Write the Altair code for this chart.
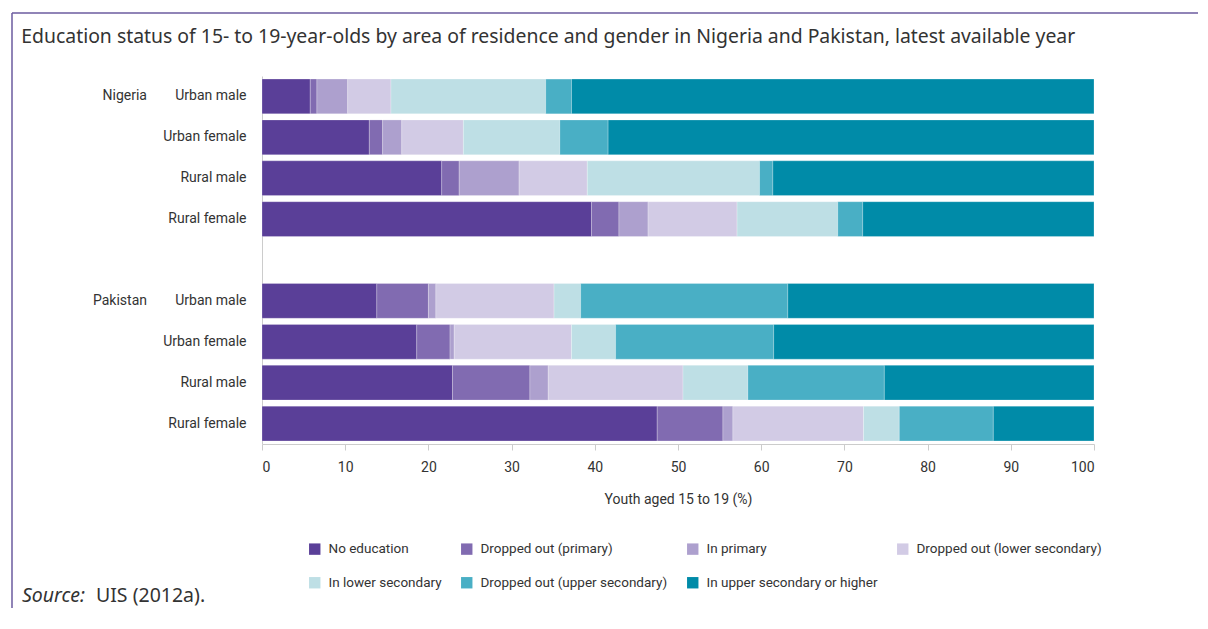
import altair as alt
import pandas as pd

# ---- data ----
countries = ["Nigeria", "Nigeria", "Nigeria", "Nigeria",
             "Pakistan", "Pakistan", "Pakistan", "Pakistan"]
groups = ["Urban male", "Urban female", "Rural male", "Rural female",
          "Urban male", "Urban female", "Rural male", "Rural female"]

categories = ["No education", "Dropped out (primary)", "In primary",
              "Dropped out (lower secondary)", "In lower secondary",
              "Dropped out (upper secondary)", "In upper secondary or higher"]
colors = ["#5a3f98", "#816bb1", "#ada0ce", "#d2cbe5", "#bedfe5", "#49afc5", "#008ba8"]

no_education        = [5.8, 12.9, 21.6, 39.6, 13.8, 18.6, 22.9, 47.5]
dropped_primary     = [0.8, 1.6, 2.1, 3.3, 6.2, 4.0, 9.3, 7.9]
in_primary          = [3.7, 2.3, 7.2, 3.5, 0.9, 0.5, 2.2, 1.2]
dropped_lower_sec   = [5.2, 7.4, 8.2, 10.7, 14.2, 14.1, 16.2, 15.7]
in_lower_sec        = [18.6, 11.6, 20.7, 12.1, 3.2, 5.3, 7.8, 4.3]
dropped_upper_sec   = [3.1, 5.8, 1.6, 3.0, 24.9, 19.0, 16.4, 11.3]
in_upper_sec_higher = [62.8, 58.4, 38.6, 27.8, 36.8, 38.5, 25.2, 12.1]

series = [no_education, dropped_primary, in_primary, dropped_lower_sec,
          in_lower_sec, dropped_upper_sec, in_upper_sec_higher]

ticks = [0, 10, 20, 30, 40, 50, 60, 70, 80, 90, 100]

# ---- build tables ----
keys = [f"{c}|{g}" for c, g in zip(countries, groups)]
row_domain = keys[:4] + ["gap"] + keys[4:]

records = []
for k_i, (cat, vals) in enumerate(zip(categories, series)):
    for key, v in zip(keys, vals):
        records.append({"row": key, "status": cat, "value": v, "k": k_i})
df = pd.DataFrame(records)

country_df = pd.DataFrame({
    "row": [keys[0], keys[4]],
    "country": [countries[0], countries[4]],
})

NARROW = "Roboto, sans-serif"
WIDE = "Noto Sans, DejaVu Sans, sans-serif"
TXT = "#333333"
FRAME = "#6b5b9f"

W, H = 832, 368
PAD = {"left": 254, "top": 68, "right": 104, "bottom": 164}

yscale = alt.Scale(domain=row_domain, paddingInner=0.15, paddingOuter=0.075)

bars = alt.Chart(df).mark_bar(stroke="#ffffff", strokeWidth=0.4, strokeOpacity=0.6).encode(
    x=alt.X("value:Q", stack="zero",
            scale=alt.Scale(domain=[0, 100], nice=False),
            axis=alt.Axis(values=ticks, title="Youth aged 15 to 19 (%)",
                          grid=False, domainColor="#cccccc", tickColor="#cccccc",
                          tickSize=6, labelPadding=10, labelFont=NARROW,
                          labelFontSize=14, labelColor=TXT, titleFont=NARROW,
                          titleFontSize=14, titleFontWeight="normal",
                          titleColor=TXT, titlePadding=18)),
    y=alt.Y("row:N", scale=yscale, sort=row_domain,
            axis=alt.Axis(title=None, ticks=False, domainColor="#cccccc",
                          labelExpr="indexof(datum.label,'|')>=0 ? split(datum.label,'|')[1] : ''",
                          labelFont=NARROW, labelFontSize=14, labelColor=TXT,
                          labelPadding=16)),
    color=alt.Color("status:N",
                    scale=alt.Scale(domain=categories, range=colors),
                    legend=alt.Legend(title=None, orient="none", legendX=46, legendY=466,
                                      direction="horizontal", columns=4,
                                      symbolType="square", symbolSize=130,
                                      symbolStrokeWidth=0, symbolOpacity=1,
                                      labelFont=NARROW, labelFontSize=13.5,
                                      labelColor=TXT, labelOffset=7, labelLimit=0,
                                      columnPadding=18, rowPadding=19)),
    order=alt.Order("k:Q"),
)

country_text = alt.Chart(country_df).mark_text(
    align="right", baseline="middle", font=NARROW, fontSize=14, color=TXT
).encode(
    y=alt.Y("row:N", scale=yscale, sort=row_domain),
    x=alt.value(-115),
    text="country:N",
)

frame_df = pd.DataFrame({"a": [0]})
frame_top = alt.Chart(frame_df).mark_rule(color=FRAME, strokeWidth=1.5).encode(
    x=alt.value(-250), x2=alt.value(W + PAD["right"]), y=alt.value(-63)
)
frame_left = alt.Chart(frame_df).mark_rule(color=FRAME, strokeWidth=1.5).encode(
    x=alt.value(-250), y=alt.value(-63), y2=alt.value(H + PAD["bottom"])
)

source_df = pd.DataFrame({"lab": ["Source:"], "rest": ["UIS (2012a)."]})
source_a = alt.Chart(source_df).mark_text(
    align="left", baseline="middle", font=WIDE, fontSize=19.5, fontStyle="italic", color=TXT
).encode(x=alt.value(-240), y=alt.value(520), text="lab:N")
source_b = alt.Chart(source_df).mark_text(
    align="left", baseline="middle", font=WIDE, fontSize=19.5, color=TXT
).encode(x=alt.value(-166), y=alt.value(520), text="rest:N")

chart = alt.layer(bars, country_text, frame_top, frame_left, source_a, source_b).properties(
    width=W, height=H,
    padding=PAD,
    autosize=alt.AutoSizeParams(type="none"),
    title=alt.TitleParams(
        "Education status of 15- to 19-year-olds by area of residence and gender in Nigeria and Pakistan, latest available year",
        anchor="start", dx=10, font=WIDE, fontSize=19.4, fontWeight="normal",
        color=TXT, offset=-35,
    ),
).configure_view(stroke=None)

chart.save("out.html", embed_options={"renderer": "svg", "actions": False})
